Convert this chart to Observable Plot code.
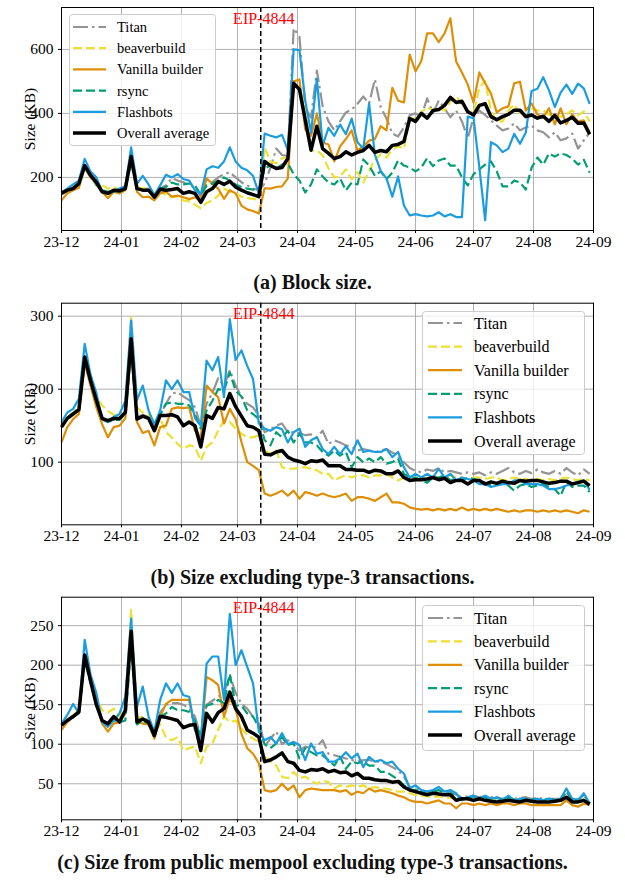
<!DOCTYPE html>
<html><head><meta charset="utf-8">
<script src="https://cdn.jsdelivr.net/npm/d3@7"></script>
<script src="https://cdn.jsdelivr.net/npm/@observablehq/plot@0.6"></script>
<style>
body{margin:0;background:#fff;}
#root{position:relative;width:625px;height:882px;overflow:hidden;background:#fff;font-family:"Liberation Serif","Times New Roman",serif;}
.cap{position:absolute;left:0;width:625px;text-align:center;font-weight:bold;font-size:20px;line-height:24px;color:#111;font-family:"Liberation Serif","Times New Roman",serif;}
.panel{position:absolute;left:0;}
.panel svg text{font-family:"Liberation Serif","Times New Roman",serif;}
.legend{position:absolute;}
.legend svg{display:block;overflow:visible;}
</style></head><body><div id="root"></div>
<script>
// ---------- categories / ticks ----------
const seriesNames = ["Titan", "beaverbuild", "Vanilla builder", "rsync", "Flashbots", "Overall average"];
const monthTicks = ["2023-12-01","2024-01-01","2024-02-01","2024-03-01","2024-04-01","2024-05-01","2024-06-01","2024-07-01","2024-08-01","2024-09-01"];
const eipDate = "2024-03-13";
const eipLabel = "EIP-4844";
// sample dates: every 3 days from 2023-12-01
const dates = d3.range(92).map(i => new Date(Date.UTC(2023, 11, 1 + 3 * i)));
const captions = ["(a) Block size.", "(b) Size excluding type-3 transactions.", "(c) Size from public mempool excluding type-3 transactions."];
const yTicksA = [200, 400, 600];
const yTicksB = [100, 200, 300];
const yTicksC = [50, 100, 150, 200, 250];

// ---------- (a) Block size (KB) ----------
const titanA = [150,160,168,180,235,205,175,160,155,160, 158,165,260,165,162,165,140,165,175,198, 190,185,175,170,140,175,185,200,210,216, 200,185,175,165,160,181,230,290,270,266, 666,640,416,387,534,422,375,347,375,403, 412,430,453,431,506,420,384,337,328,356, 394,400,390,447,400,440,416,388,409,375, 322,388,409,395,378,362,347,353,369,347, 356,362,347,341,325,341,316,322,337,290, 316,340];
const beaverA = [150,165,170,180,235,210,185,175,165,170, 160,170,270,170,165,168,148,160,143,138, 140,128,125,115,103,120,128,143,165,155, 150,140,135,133,130,293,250,244,259,265, 480,486,406,284,284,269,228,200,203,225, 194,216,184,220,256,272,262,287,297,290, 384,384,403,419,409,420,409,437,453,430, 409,400,480,502,409,375,375,409,428,400, 387,416,409,409,397,387,390,397,409,394, 406,375];
const vanillaA = [128,150,160,168,230,200,180,155,135,155, 150,160,275,155,138,140,128,150,155,140, 143,138,132,138,127,197,180,165,133,160, 150,112,100,95,87,166,165,170,172,197, 500,506,350,330,400,309,303,250,297,320, 347,284,297,315,320,360,347,480,440,434, 584,531,564,650,650,623,650,697,562,528, 490,434,528,494,462,403,416,422,494,499, 409,431,397,387,416,366,416,366,397,375, 378,340];
const rsyncA = [155,160,168,178,230,205,180,160,155,158, 155,165,245,165,160,160,145,165,170,184, 178,178,181,175,145,175,180,190,200,190, 178,170,165,162,158,228,237,228,240,244, 210,190,153,178,225,203,184,178,197,159, 184,178,256,237,205,219,194,215,253,237, 231,219,231,260,235,253,259,237,237,200, 175,210,225,240,250,219,172,172,190,184, 162,230,262,240,275,265,275,270,259,240, 255,215];
const flashA = [153,165,178,190,258,218,200,158,150,155, 165,172,294,180,205,178,145,175,208,200, 210,195,190,160,148,225,235,230,250,294, 250,230,222,205,150,337,330,325,333,285, 600,598,440,340,509,300,355,330,365,335, 384,310,290,431,270,220,197,140,203,112, 81,85,81,78,81,91,78,85,76,76, 390,385,231,66,310,300,279,290,336,305, 340,470,477,513,472,420,465,490,461,493, 478,430];
const overallA = [150,160,165,181,237,206,185,155,150,160, 158,165,265,165,160,160,138,163,160,162, 165,150,155,150,122,155,165,187,178,188, 170,160,152,146,140,250,237,228,231,259, 494,475,380,285,360,290,275,259,265,280, 270,278,284,300,278,284,280,300,303,312, 384,375,400,385,409,412,425,450,434,438, 405,395,425,430,390,380,390,397,410,410, 390,395,385,391,375,394,370,378,388,369, 370,335];

// ---------- (b) Size excluding type-3 transactions (KB) ----------
const titanB = [150,160,168,175,240,210,180,158,155,158, 160,168,265,162,165,162,145,165,180,194, 196,190,185,175,150,180,195,215,205,226, 205,190,180,175,164,141,145,150,153,141, 141,140,137,138,134,143,125,130,127,123, 121,116,118,116,113,116,118,113,110,100, 92,88,86,90,88,92,86,88,86,84, 86,84,86,82,86,84,88,92,86,84, 88,85,90,86,84,88,84,92,86,82, 90,84];
const beaverB = [150,162,168,175,240,212,190,178,170,165, 162,170,300,175,168,166,150,160,141,134, 125,118,123,121,102,121,127,143,157,155, 146,139,134,134,137,116,111,116,93,91, 91,93,93,91,89,84,84,75,79,82, 79,82,82,79,82,82,84,79,75,79, 77,79,79,77,79,79,79,82,79,79, 77,79,79,77,79,79,75,77,79,77, 77,75,77,75,77,75,77,79,77,75, 77,75];
const vanillaB = [127,148,159,166,235,205,175,152,134,148, 150,160,258,155,140,143,123,148,150,173, 175,174,175,143,134,205,196,189,153,173, 159,128,100,95,89,57,54,57,61,54, 61,50,59,57,54,57,54,52,54,57, 47,52,52,50,47,52,57,45,45,43, 38,36,35,36,34,36,34,36,34,38, 34,36,34,36,34,36,34,32,34,32, 34,34,32,34,32,34,32,34,32,30, 34,32];
const rsyncB = [150,160,166,172,235,210,185,160,155,158, 158,166,255,160,162,160,145,165,180,182, 180,180,178,165,146,171,184,200,198,223, 198,190,171,166,159,130,123,141,134,143, 127,139,127,127,123,114,109,116,109,114, 93,107,100,105,100,107,98,100,105,84, 79,79,75,72,79,79,82,75,77,75, 79,77,75,72,68,70,73,68,61,68, 70,66,68,70,66,63,54,73,66,68, 68,59];
const flashB = [155,168,173,187,262,220,195,159,155,162, 166,184,294,185,205,171,152,171,212,200, 212,196,196,160,150,239,226,244,189,296, 240,253,232,214,153,146,143,148,145,127, 141,146,121,130,134,118,111,121,111,122, 111,130,114,116,114,114,118,107,114,93, 79,84,79,84,79,91,79,84,75,79, 77,75,70,70,66,68,70,70,75,75, 70,70,70,68,63,63,65,68,70,73, 75,62];
const overallB = [148,160,166,172,244,212,185,160,157,160, 160,168,269,159,163,160,143,164,164,165, 162,150,155,150,121,164,160,175,173,194, 176,163,150,148,143,111,110,114,116,107, 103,101,98,102,101,103,95,95,95,90, 90,89,89,86,89,88,84,84,88,79, 75,76,76,77,79,76,78,72,75,75, 70,75,75,70,73,71,74,72,71,75, 74,75,75,73,71,72,74,74,70,72, 74,68];

// ---------- (c) Size from public mempool excluding type-3 (KB) ----------
const titanC = [124,130,135,140,210,182,155,130,126,133, 130,142,240,130,135,130,112,140,150,152, 152,150,145,135,110,150,155,160,165,187, 165,151,145,135,132,97,107,116,100,105, 100,92,97,95,97,105,88,86,84,82, 80,78,80,80,78,78,75,71,67,59, 46,44,42,40,40,42,40,40,36,33, 34,35,33,34,33,33,31,34,31,32, 33,31,32,31,31,31,31,38,31,30, 35,27];
const beaverC = [124,132,137,143,213,185,160,143,140,145, 135,145,270,135,133,130,115,125,109,105, 109,92,95,97,76,97,101,118,135,128, 130,120,112,107,103,84,78,73,59,57, 65,57,59,54,50,54,52,44,48,46, 48,46,48,44,46,44,44,42,40,40, 38,36,35,34,33,34,33,32,31,30, 31,30,30,30,29,30,30,31,30,30, 30,29,30,29,29,29,30,33,29,29, 30,26];
const vanillaC = [118,128,135,141,211,180,150,126,116,126, 128,139,238,130,126,125,107,135,151,156, 156,156,156,118,105,185,181,175,135,158, 145,113,95,88,76,42,40,42,50,42, 48,33,42,44,43,42,42,42,40,42, 36,40,38,44,40,42,40,38,35,33, 29,27,27,25,27,29,25,25,19,25, 25,23,25,23,25,23,25,25,23,25, 25,23,23,23,23,23,23,29,23,21, 25,23];
const rsyncC = [124,130,134,140,205,178,152,128,125,130, 128,130,225,125,130,126,110,135,139,147, 143,143,141,130,110,149,151,156,152,189, 149,149,139,135,122,100,95,101,109,99, 101,82,95,90,86,86,80,73,84,69, 78,76,78,73,73,65,65,60,55,48, 42,42,40,38,40,42,38,38,33,30, 33,34,31,33,30,32,30,33,30,31, 31,30,31,30,31,30,31,40,30,30, 36,25];
const flashC = [126,137,151,139,232,188,165,128,122,130, 139,160,259,147,173,135,116,156,177,165, 177,162,160,118,105,202,211,211,156,265, 200,219,198,177,116,105,109,101,114,100, 103,99,80,101,88,90,78,78,82,90, 82,88,71,84,78,80,76,78,69,63, 44,48,42,40,42,46,40,42,38,29, 33,35,31,35,31,33,29,35,29,31, 31,29,31,29,31,29,31,44,31,29, 38,25];
const overallC = [124,130,135,141,213,180,150,130,126,135, 128,143,243,128,132,128,111,135,134,132, 130,121,124,125,92,139,128,140,145,166, 145,135,118,114,109,78,80,84,89,78, 76,67,65,68,67,69,65,67,64,65, 60,63,57,57,55,54,54,52,53,46, 42,40,38,36,38,37,36,36,29,31, 31,29,31,29,28,27,28,29,28,27, 29,28,27,27,27,28,29,33,27,27, 29,24];

// ---------- styles (kept apart from data) ----------
const styles = [
  {color: "#949494", width: 2.2, dash: "15,4,2.5,4"},
  {color: "#ece133", width: 2.2, dash: "9,4"},
  {color: "#de8f05", width: 2.2, dash: null},
  {color: "#029e73", width: 2.2, dash: "9,4"},
  {color: "#1a9de0", width: 2.2, dash: null},
  {color: "#000000", width: 3.5, dash: null}
];
const FONT = "'Liberation Serif', 'Times New Roman', serif";

const panels = [
  {series: [titanA, beaverA, vanillaA, rsyncA, flashA, overallA], yTicks: yTicksA, domain: [34, 731],
   top: 0, height: 250, mt: 7, mb: 20, capY: 282,
   legend: {left: 69, top: 14, w: 147, h: 132, row0: 13, step: 21.2, s0: 4, s1: 37, tx: 48, fs: 14.5}},
  {series: [titanB, beaverB, vanillaB, rsyncB, flashB, overallB], yTicks: yTicksB, domain: [14.2, 317.8],
   top: 295, height: 250, mt: 7.7, mb: 20.7, capY: 577,
   legend: {left: 422, top: 311, w: 163, h: 144, row0: 12, step: 23.6, s0: 6, s1: 40, tx: 52, fs: 16}},
  {series: [titanC, beaverC, vanillaC, rsyncC, flashC, overallC], yTicks: yTicksC, domain: [4.4, 286],
   top: 590, height: 250, mt: 6.7, mb: 20.7, capY: 862,
   legend: {left: 422, top: 605, w: 163, h: 146, row0: 13, step: 23.4, s0: 6, s1: 40, tx: 52, fs: 16}}
];

const root = d3.select("#root");
const monthDates = monthTicks.map(s => new Date(s + "T00:00:00Z"));
const eip = new Date(eipDate + "T00:00:00Z");

panels.forEach((p, pi) => {
  const lineMarks = p.series.map((arr, si) => {
    const rows = arr.map((v, i) => ({date: dates[i], value: v}));
    const st = styles[si];
    const opts = {x: "date", y: "value", stroke: st.color, strokeWidth: st.width, strokeLinejoin: "round", strokeLinecap: "butt"};
    if (st.dash) opts.strokeDasharray = st.dash;
    return Plot.lineY(rows, opts);
  });
  const chart = Plot.plot({
    width: 625, height: p.height,
    marginLeft: 61, marginRight: 32, marginTop: p.mt, marginBottom: p.mb,
    style: {fontFamily: FONT, fontSize: "15.5px", color: "#000", background: "transparent", overflow: "visible"},
    x: {type: "utc", domain: [monthDates[0], monthDates[monthDates.length - 1]], label: null},
    y: {domain: p.domain, label: null},
    marks: [
      Plot.gridX(monthDates, {stroke: "#b0b0b0", strokeOpacity: 1, strokeWidth: 1}),
      Plot.gridY(p.yTicks, {stroke: "#b0b0b0", strokeOpacity: 1, strokeWidth: 1}),
      ...lineMarks,
      Plot.ruleX([eip], {stroke: "#000", strokeWidth: 1.5, strokeDasharray: "5,3"}),
      Plot.text([eip], {x: d => d, frameAnchor: "top", lineAnchor: "middle", dy: 11, dx: 3, text: () => eipLabel, fill: "red", fontSize: 16, fontFamily: FONT}),
      Plot.axisX({ticks: monthDates, tickFormat: d3.utcFormat("%y-%m"), tickSize: 3, tickPadding: 2, fontSize: 15.5, fontFamily: FONT, fill: "#000", label: null}),
      Plot.axisY({ticks: p.yTicks, tickSize: 3, tickPadding: 5, fontSize: 15.5, fontFamily: FONT, fill: "#000", label: "Size (KB)", labelAnchor: "center", labelArrow: "none", labelOffset: 38}),
      Plot.frame({stroke: "#000", strokeWidth: 1})
    ]
  });
  const holder = root.append("div").attr("class", "panel").style("top", p.top + "px");
  holder.node().appendChild(chart);

  // legend (HTML overlay)
  const L = p.legend;
  const lg = root.append("div").attr("class", "legend").style("left", L.left + "px").style("top", L.top + "px");
  const svg = lg.append("svg").attr("width", L.w).attr("height", L.h);
  svg.append("rect").attr("x", 0.5).attr("y", 0.5).attr("width", L.w - 1).attr("height", L.h - 1)
    .attr("rx", 3).attr("fill", "white").attr("fill-opacity", 0.8).attr("stroke", "#cccccc").attr("stroke-width", 1);
  seriesNames.forEach((name, i) => {
    const y = L.row0 + i * L.step;
    const st = styles[i];
    const ln = svg.append("line").attr("x1", L.s0).attr("x2", L.s1).attr("y1", y).attr("y2", y)
      .attr("stroke", st.color).attr("stroke-width", st.width);
    if (st.dash) ln.attr("stroke-dasharray", st.dash);
    svg.append("text").attr("x", L.tx).attr("y", y).attr("dy", "0.35em")
      .attr("font-size", L.fs).attr("font-family", FONT).attr("fill", "#000").text(name);
  });

  root.append("div").attr("class", "cap").style("top", (p.capY - 12) + "px").text(captions[pi]);
});
</script>
</body></html>
